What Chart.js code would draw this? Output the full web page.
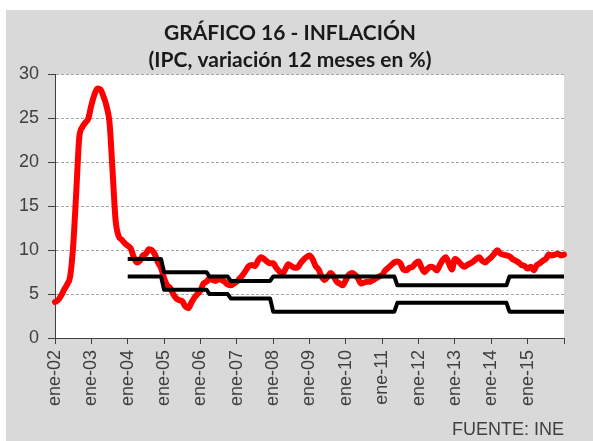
<!DOCTYPE html>
<html>
<head>
<meta charset="utf-8">
<script src="https://cdn.jsdelivr.net/npm/chart.js@4.4.1/dist/chart.umd.min.js"></script>
<style>
  html, body { margin: 0; padding: 0; background: #ffffff; }
  #panel { position: absolute; left: 6px; top: 10px; width: 587px; height: 431px; background: #d9d9d9; }
  #wrap { position: absolute; left: 0px; top: 10px; width: 593px; height: 431px; }
</style>
</head>
<body>
<div id="panel"></div>
<div id="wrap"><canvas id="c" width="593" height="431"></canvas></div>
<script>
// ---- Data ----
const monthNames = ['ene','feb','mar','abr','may','jun','jul','ago','sep','oct','nov','dic'];
const years = ['02','03','04','05','06','07','08','09','10','11','12','13','14','15','16'];
const labels = [];
years.forEach(y => monthNames.forEach(m => labels.push(m + '-' + y)));
labels.length = 169; // ene-02 ... ene-16

// IPC, variación 12 meses (%)
const inflacion = [
  4.1,4.3,4.8,5.5,6.1,7.0,10.5,16.5,22.8,24.0,24.5,25.0,      // 2002
  26.5,27.7,28.4,28.3,27.5,26.4,24.5,19.0,13.4,11.6,11.2,10.8, // 2003
  10.5,10.2,9.2,8.6,8.8,9.4,9.6,10.1,10.0,9.5,8.6,8.0,         // 2004
  6.8,6.0,5.7,5.0,4.5,4.3,4.2,3.6,3.4,4.0,4.6,5.0,             // 2005
  5.4,6.2,6.4,6.8,6.6,6.5,6.7,6.6,6.4,6.1,6.0,6.2,             // 2006
  6.4,6.8,7.2,7.7,8.2,8.3,8.2,8.8,9.2,9.0,8.7,8.5,             // 2007
  8.5,8.0,7.6,7.3,7.8,8.4,8.2,8.0,8.0,8.5,8.9,9.2,             // 2008
  9.4,9.0,8.2,7.8,7.0,6.6,7.0,7.4,7.0,6.4,6.2,6.0,             // 2009
  6.6,7.2,7.4,7.2,6.8,6.2,6.3,6.4,6.4,6.6,6.8,7.0,             // 2010
  7.2,7.7,8.0,8.3,8.6,8.7,8.5,7.8,7.7,8.0,8.1,8.5,             // 2011
  8.7,8.0,7.5,7.9,8.1,8.0,7.7,8.3,8.9,9.2,8.5,7.8,             // 2012
  9.0,8.8,8.4,8.1,8.3,8.5,8.7,9.0,9.2,8.8,8.6,8.9,             // 2013
  9.2,9.6,10.0,9.6,9.5,9.4,9.3,9.0,8.8,8.6,8.3,8.2,            // 2014
  7.9,8.1,7.7,8.3,8.5,8.8,9.0,9.5,9.4,9.5,9.6,9.4,             // 2015
  9.5                                                          // ene-16
];

const N = null;
// Rango meta: techo
const techo = [
  N,N,N,N,N,N,N,N,N,N,N,N,                 // 2002
  N,N,N,N,N,N,N,N,N,N,N,N,                 // 2003
  9,9,9,9,9,9,9,9,9,9,9,9,                 // 2004
  7.5,7.5,7.5,7.5,7.5,7.5,7.5,7.5,7.5,7.5,7.5,7.5, // 2005
  7.5,7.5,7.5,7,7,7,7,7,7,7,6.5,6.5,       // 2006
  6.5,6.5,6.5,6.5,6.5,6.5,6.5,6.5,6.5,6.5,6.5,6.5, // 2007
  7,7,7,7,7,7,7,7,7,7,7,7,                 // 2008
  7,7,7,7,7,7,7,7,7,7,7,7,                 // 2009
  7,7,7,7,7,7,7,7,7,7,7,7,                 // 2010
  7,7,7,7,7,6,6,6,6,6,6,6,                 // 2011
  6,6,6,6,6,6,6,6,6,6,6,6,                 // 2012
  6,6,6,6,6,6,6,6,6,6,6,6,                 // 2013
  6,6,6,6,6,6,7,7,7,7,7,7,                 // 2014
  7,7,7,7,7,7,7,7,7,7,7,7,                 // 2015
  7                                        // ene-16
];
// Rango meta: piso
const piso = [
  N,N,N,N,N,N,N,N,N,N,N,N,                 // 2002
  N,N,N,N,N,N,N,N,N,N,N,N,                 // 2003
  7,7,7,7,7,7,7,7,7,7,7,7,                 // 2004
  5.5,5.5,5.5,5.5,5.5,5.5,5.5,5.5,5.5,5.5,5.5,5.5, // 2005
  5.5,5.5,5.5,5,5,5,5,5,5,5,4.5,4.5,       // 2006
  4.5,4.5,4.5,4.5,4.5,4.5,4.5,4.5,4.5,4.5,4.5,4.5, // 2007
  3,3,3,3,3,3,3,3,3,3,3,3,                 // 2008
  3,3,3,3,3,3,3,3,3,3,3,3,                 // 2009
  3,3,3,3,3,3,3,3,3,3,3,3,                 // 2010
  3,3,3,3,3,4,4,4,4,4,4,4,                 // 2011
  4,4,4,4,4,4,4,4,4,4,4,4,                 // 2012
  4,4,4,4,4,4,4,4,4,4,4,4,                 // 2013
  4,4,4,4,4,4,3,3,3,3,3,3,                 // 2014
  3,3,3,3,3,3,3,3,3,3,3,3,                 // 2015
  3                                        // ene-16
];

const yTicks = [0, 5, 10, 15, 20, 25, 30];
const titleLines = ['GRÁFICO 16 - INFLACIÓN', '(IPC, variación 12 meses en %)'];
const sourceText = 'FUENTE: INE';

// ---- Chart ----
const plotBg = {
  id: 'plotBg',
  beforeDraw(chart) {
    const a = chart.chartArea, ctx = chart.ctx;
    ctx.save();
    ctx.fillStyle = '#ffffff';
    ctx.fillRect(a.left, a.top, a.right - a.left, a.bottom - a.top);
    ctx.restore();
  }
};

const axisColor = '#404040';
const tickFont = { family: '"Liberation Sans", Arial, sans-serif', size: 18 };

new Chart(document.getElementById('c'), {
  type: 'line',
  data: {
    labels: labels,
    datasets: [
      { label: 'Techo', data: techo, borderColor: '#000000', borderWidth: 4, pointRadius: 0, tension: 0, order: 1, borderJoinStyle: 'round' },
      { label: 'Piso', data: piso, borderColor: '#000000', borderWidth: 4, pointRadius: 0, tension: 0, order: 1, borderJoinStyle: 'round' },
      { label: 'IPC', data: inflacion, borderColor: '#ff0000', borderWidth: 6, pointRadius: 0, cubicInterpolationMode: 'monotone', order: 2, borderJoinStyle: 'round', borderCapStyle: 'round' }
    ]
  },
  options: {
    responsive: false,
    animation: false,
    devicePixelRatio: 1,
    layout: { padding: { left: 16, right: 29, top: 0, bottom: 0 } },
    plugins: {
      legend: { display: false },
      tooltip: { enabled: false },
      title: {
        display: true,
        text: titleLines,
        color: '#1a1a1a',
        font: { family: 'Lato, "Open Sans", sans-serif', size: 21, weight: 'bold', lineHeight: 1.3 },
        padding: { top: 9.5, bottom: 0.4 }
      },
      subtitle: {
        display: true,
        position: 'bottom',
        align: 'end',
        text: sourceText,
        color: axisColor,
        font: { family: '"Liberation Sans", Arial, sans-serif', size: 18, lineHeight: 1.2 },
        padding: { top: 0, bottom: 0 }
      }
    },
    scales: {
      x: {
        type: 'category',
        offset: false,
        afterBuildTicks(scale) {
          scale.ticks = scale.ticks.filter(t => t.value % 12 === 0);
        },
        afterFit(scale) { scale.height = 81.4; },
        grid: { drawOnChartArea: false, drawTicks: true, tickLength: 6, tickColor: axisColor, tickWidth: 1 },
        border: { color: axisColor, width: 1 },
        ticks: {
          autoSkip: false,
          minRotation: 90,
          maxRotation: 90,
          padding: 6,
          color: axisColor,
          font: tickFont,
          callback(value) {
            return value >= labels.length - 1 ? '' : labels[value];
          }
        }
      },
      y: {
        min: yTicks[0],
        max: yTicks[yTicks.length - 1],
        afterFit(scale) { scale.width = 39; },
        afterBuildTicks(scale) { scale.ticks = yTicks.map(v => ({ value: v })); },
        grid: {
          color: ctx => (ctx.tick && ctx.tick.value === 0) ? 'rgba(0,0,0,0)' : '#a6a6a6',
          tickColor: axisColor,
          tickLength: 7,
          lineWidth: 1
        },
        border: { color: axisColor, width: 1, dash: [3, 2] },
        ticks: { padding: 9, color: axisColor, font: tickFont }
      }
    }
  },
  plugins: [plotBg]
});
</script>
</body>
</html>
